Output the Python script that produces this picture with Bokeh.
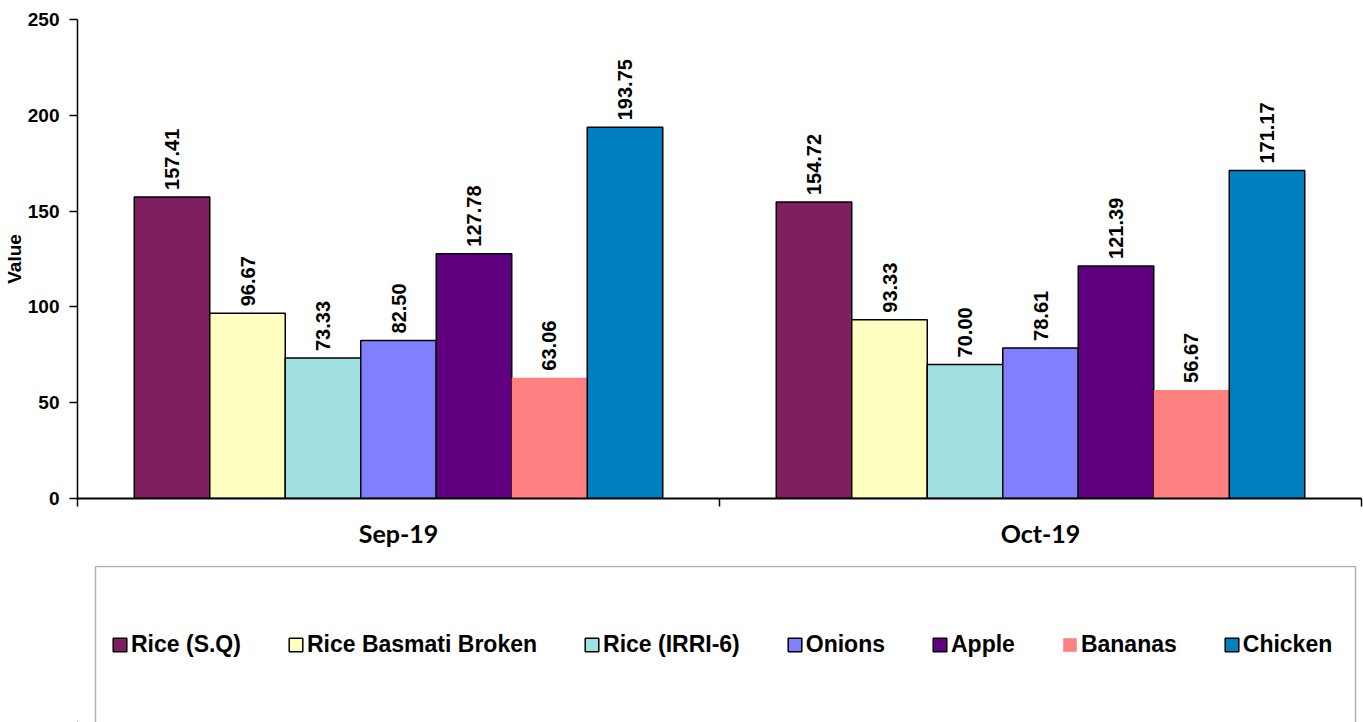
import math
from bokeh.plotting import figure
from bokeh.models import (ColumnDataSource, FixedTicker, Range1d, Legend, LegendItem, BoxAnnotation)
from bokeh.layouts import column
from bokeh.transform import dodge
from bokeh.embed import file_html
from bokeh.resources import INLINE
from bokeh.core.properties import value

months = ["Sep-19", "Oct-19"]
series = ["Rice (S.Q)", "Rice Basmati Broken", "Rice (IRRI-6)", "Onions", "Apple", "Bananas", "Chicken"]
rice_sq = [157.41, 154.72]
rice_basmati = [96.67, 93.33]
rice_irri = [73.33, 70.00]
onions = [82.50, 78.61]
apple = [127.78, 121.39]
bananas = [63.06, 56.67]
chicken = [193.75, 171.17]
values_by_series = [rice_sq, rice_basmati, rice_irri, onions, apple, bananas, chicken]
colors = ["#7F1F5F", "#FFFFC0", "#A0E0E0", "#8080FF", "#600080", "#FF8080", "#0080C0"]
outline = ["black", "black", "black", "black", "black", None, "black"]
y_ticks = [0, 50, 100, 150, 200, 250]

NUM = "Liberation Sans"
W = 1363
LEFT = 77
bar_w = 0.1176
centers = [i + 0.5 for i in range(len(months))]

p = figure(width=W, height=560, output_backend="svg", toolbar_location=None,
           x_range=Range1d(0, len(months)), y_range=Range1d(0, 250),
           min_border_left=LEFT, min_border_top=19, min_border_bottom=62, min_border_right=2)
p.outline_line_color = None
p.xgrid.visible = False
p.ygrid.visible = False

for j, (name, vals) in enumerate(zip(series, values_by_series)):
    src = ColumnDataSource(dict(x=centers, top=vals, lbl=["%.2f" % v for v in vals]))
    off = (j - (len(series) - 1) / 2) * bar_w
    p.vbar(x=dodge("x", off), top="top", bottom=0, width=bar_w, source=src,
           fill_color=colors[j], line_color=outline[j], line_width=1.5)
    p.text(x=dodge("x", off), y="top", text="lbl", source=src, angle=math.pi / 2,
           text_align="left", text_baseline="middle", y_offset=-7,
           text_font=value(NUM), text_font_style="bold", text_font_size="20px",
           text_color="black")

# y axis
p.yaxis.ticker = FixedTicker(ticks=y_ticks, minor_ticks=[])
p.yaxis.axis_label = "Value"
p.yaxis.axis_label_standoff = 0
p.yaxis.axis_label_text_font = NUM
p.yaxis.axis_label_text_font_style = "bold"
p.yaxis.axis_label_text_font_size = "19px"
p.yaxis.axis_label_text_color = "black"
p.yaxis.major_label_text_font = NUM
p.yaxis.major_label_text_font_style = "bold"
p.yaxis.major_label_text_font_size = "19px"
p.yaxis.major_label_text_color = "black"
p.yaxis.major_tick_out = 8
p.yaxis.major_tick_in = 0
p.yaxis.major_label_standoff = 10
p.yaxis.axis_line_width = 1.5
p.yaxis.major_tick_line_width = 1.5
p.yaxis.axis_line_color = "black"
p.yaxis.major_tick_line_color = "black"

# x axis: labels at category centres, ticks at category boundaries
p.xaxis.ticker = FixedTicker(ticks=centers, minor_ticks=list(range(len(months) + 1)))
p.xaxis.major_label_overrides = {c: m for c, m in zip(centers, months)}
p.xaxis.major_tick_line_color = None
p.xaxis.minor_tick_line_color = "black"
p.xaxis.minor_tick_out = 8
p.xaxis.minor_tick_in = 0
p.xaxis.minor_tick_line_width = 1.5
p.xaxis.axis_line_width = 2
p.xaxis.axis_line_color = "black"
p.xaxis.major_label_standoff = 11
p.xaxis.major_label_text_font = "Lato"
p.xaxis.major_label_text_font_style = "bold"
p.xaxis.major_label_text_font_size = "25px"
p.xaxis.major_label_text_color = "black"

# legend panel (x range in pixels of its frame, so the box can be placed by layout offsets)
LF_H = 157
lf_frame_w = W - LEFT - 2
lf = figure(width=W, height=LF_H, output_backend="svg", toolbar_location=None,
            x_range=Range1d(0, lf_frame_w), y_range=Range1d(0, LF_H),
            x_axis_type=None, y_axis_type=None,
            min_border=0, min_border_left=LEFT, min_border_right=2)
lf.xgrid.visible = False
lf.ygrid.visible = False
lf.outline_line_color = None
lf.add_layout(BoxAnnotation(left=18, right=lf_frame_w - 6, top=LF_H - 1, bottom=-1,
                            fill_alpha=0, line_color="black", line_width=1.5))

items = []
for j, name in enumerate(series):
    r = lf.vbar(x=[-5000], top=[-5000], bottom=[-5001], width=1, fill_color=colors[j],
                line_color=outline[j], line_width=1.5)
    items.append(LegendItem(label=name, renderers=[r]))

leg = Legend(items=items, orientation="horizontal", location=(34, 64),
             padding=0, margin=0, spacing=46, glyph_width=17, glyph_height=17,
             label_standoff=3, label_text_font=NUM, label_text_font_style="bold",
             label_text_font_size="23px", label_text_color="black",
             border_line_color=None, background_fill_alpha=0)
lf.add_layout(leg)

layout = column(p, lf, spacing=5)
open("out.html", "w").write(file_html(layout, INLINE))
